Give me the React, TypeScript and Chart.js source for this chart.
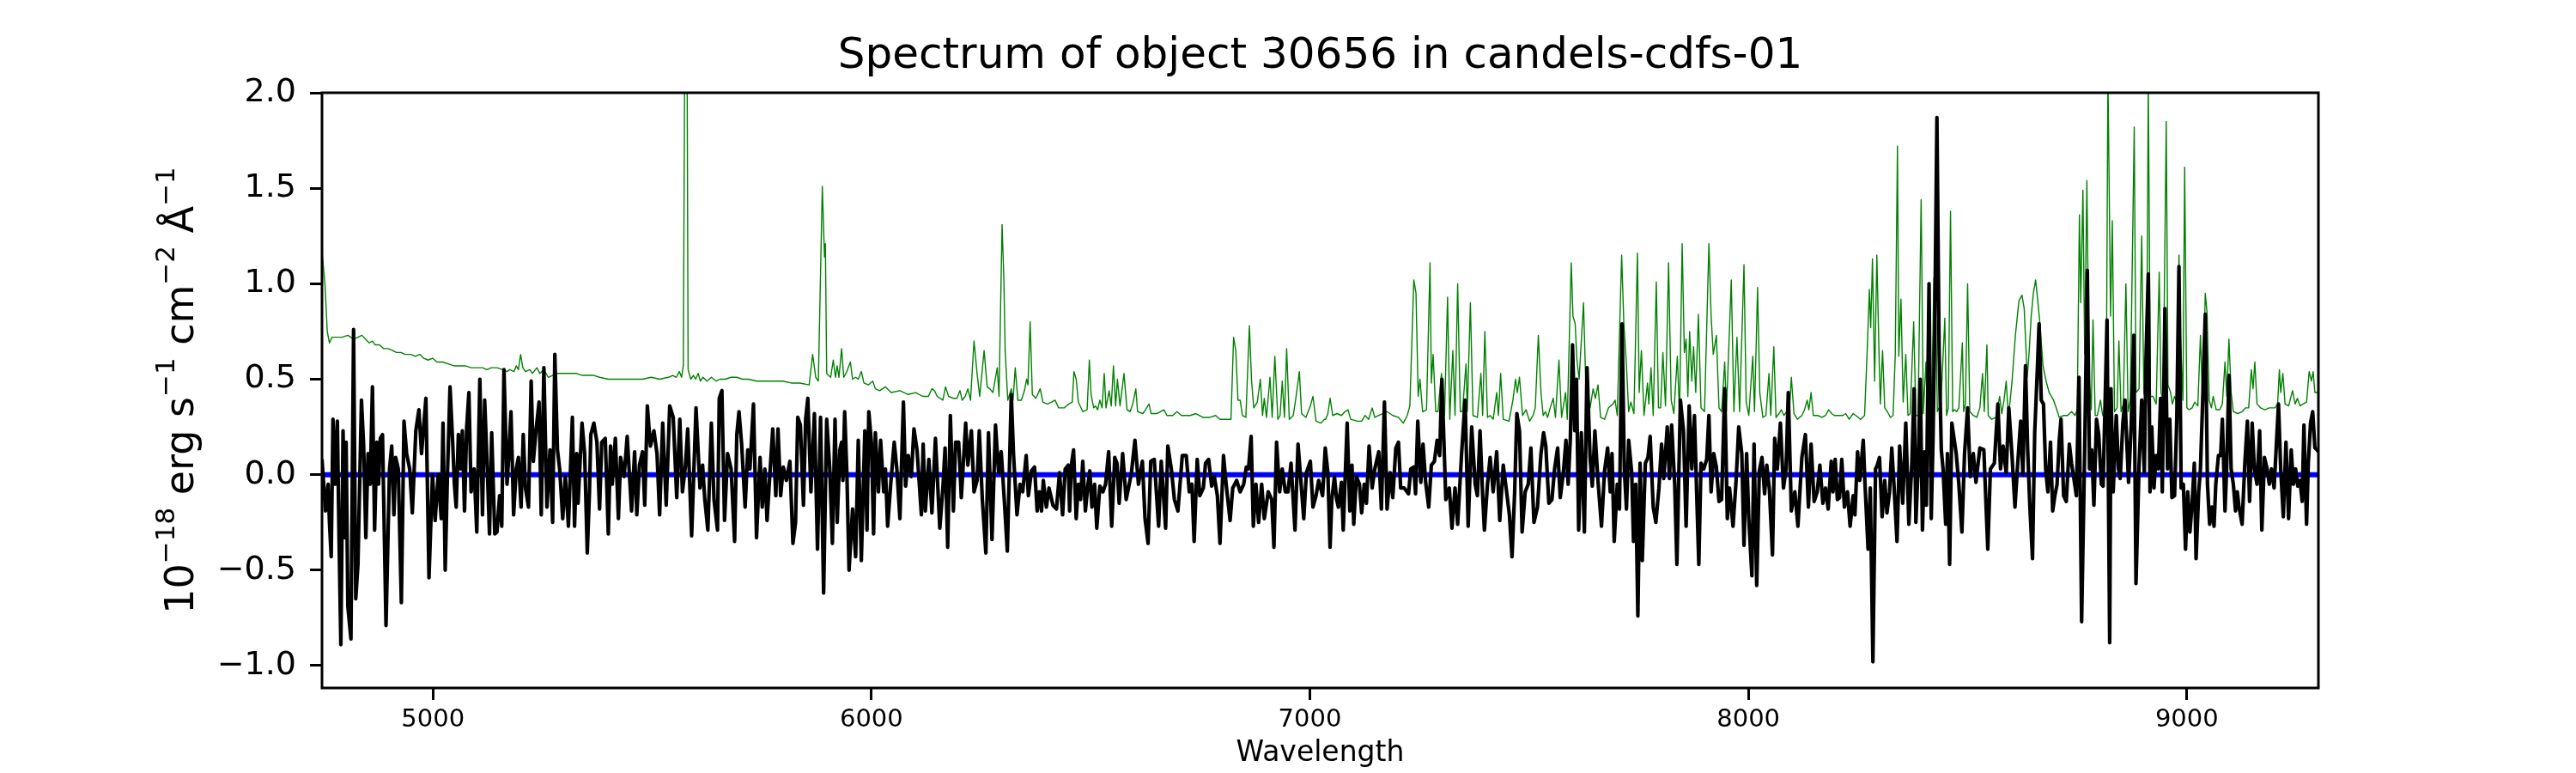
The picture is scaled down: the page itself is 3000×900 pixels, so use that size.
import React, { useEffect, useRef } from "react";
import { Chart, registerables } from "chart.js";

Chart.register(...registerables);

const TITLE = "Spectrum of object 30656 in candels-cdfs-01";
const X_LABEL = "Wavelength";
// y label as (text, isSuperscript) pieces: 10^-18 erg s^-1 cm^-2 Å^-1
const yLabelParts: [string, boolean][] = [
  ["10", false],
  ["−18", true],
  [" erg s", false],
  ["−1", true],
  [" cm", false],
  ["−2", true],
  [" Å", false],
  ["−1", true],
];

const X_MIN = 4747;
const X_MAX = 9300;
const Y_MIN = -1.117;
const Y_MAX = 2.0;

const xTickValues = [5000, 6000, 7000, 8000, 9000];
const xTickLabels = ["5000", "6000", "7000", "8000", "9000"];
const yTickValues = [-1.0, -0.5, 0.0, 0.5, 1.0, 1.5, 2.0];
const yTickLabels = ["−1.0", "−0.5", "0.0", "0.5", "1.0", "1.5", "2.0"];

// Object flux (black)
const fluxWavelength = [
  4747,4755,4761,4764,4768,4772,4777,4782,4786,4790,
  4795,4799,4802,4806,4813,4819,4824,4829,4837,4842,
  4847,4852,4857,4862,4867,4872,4876,4880,4885,4893,
  4901,4906,4911,4915,4921,4928,4934,4940,4947,4953,
  4961,4968,4974,4984,4991,4999,5005,5012,5019,5023,
  5028,5033,5039,5045,5049,5053,5058,5063,5067,5072,
  5077,5082,5087,5094,5100,5107,5113,5118,5124,5129,
  5134,5141,5146,5152,5157,5162,5169,5173,5178,5184,
  5190,5195,5201,5206,5211,5218,5224,5229,5235,5242,
  5247,5253,5260,5267,5273,5278,5284,5289,5296,5302,
  5309,
  5318,5323,5328,5331,5340,5346,5352,5357,5360,5367,
  5374,5380,5385,5393,5400,5405,5409,5416,5423,5428,
  5436,5443,5453,5460,5465,5471,5478,5483,5489,5496,
  5504,5511,5517,5524,5532,5540,5548,5556,5563,5569,
  5576,5581,5590,5600,5609,5615,5620,5627,5635,5641,
  5649,5653,5659,5665,5672,5680,5688,5693,5698,5704,
  5712,5718,5723,5731,5738,5746,5751,5757,5762,5767,
  5775,5782,5787,5793,5799,5806,5814,5821,5827,5832,
  5838,5845,5850,5855,5862,5870,5877,5884,5891,
  5898,5905,5911,5917,5922,5928,5932,5935,5939,5944,
  5949,5957,5964,5970,5977,5985,5990,5994,6000,6005,
  6009,6016,6021,6028,6032,6037,6044,6052,6058,6065,
  6073,6078,6084,6091,6097,6104,6114,6118,6123,6131,
  6138,6146,6156,6163,6168,6174,6180,6187,6192,6199,
  6205,6215,6220,6228,6234,6241,6246,6253,6261,6267,
  6275,6283,6290,6296,6303,6310,6319,6324,6332,6339,
  6345,6353,6358,6365,6372,6378,6383,6388,6392,6399,
  6405,6414,6422,6429,6436,6442,6449,6452,6456,6461,
  6467,6472,6477,6482,6488,6494,6498,6503,6509,6514,
  6521,6528,6534,6541,6548,6555,6560,6565,6573,6581,
  6588,6593,6601,6609,6618,6624,6631,6637,6645,6655,
  6661,6671,6676,6684,6691,6699,6709,6718,6725,6731,
  6736,6743,6749,6757,6762,6769,6776,6782,6789,6795,
  6803,6809,6818,6824,6833,6841,6849,6855,6860,6866,
  6871,6877,6883,6890,6896,6905,6913,6918,6924,6931,
  6937,6944,6950,6957,6966,6973,6978,6986,6992,7001,
  7007,7014,7020,7029,7035,
  7041,7046,7050,7056,7061,7065,7072,7076,7085,7091,
  7096,7100,7106,7113,7118,7124,7129,7135,7142,7148,
  7157,7163,7170,7176,7183,7189,7196,7202,7207,7215,
  7225,7230,7237,7241,7246,7253,7258,7264,7271,7277,
  7284,7290,7296,7301,7310,7318,7324,7331,7337,7346,
  7354,7361,7369,7377,7382,7388,7394,7398,7405,7411,
  7418,7426,7433,7441,7447,7455,7461,7467,7472,7478,
  7484,7491,7498,7504,7511,7519,7527,7533,7538,7545,
  7552,7558,7565,7571,7578,7584,7589,7594,7599,7604,
  7608,
  7613,7619,7626,7632,7639,7644,7650,7657,7665,7672,
  7679,7685,7689,7694,7701,7706,7712,7717,7722,7727,
  7734,7738,7743,7748,7753,7758,7765,7771,7776,7783,
  7789,7796,7802,7807,7815,7820,7825,7832,7837,7845,
  7852,7858,7865,7871,7877,7882,7887,7892,7898,7905,
  7910,7915,7921,7927,7933,7939,7946,7952,7957,7965,
  7972,7978,7985,7990,7996,8001,8008,8013,8019,8025,
  8031,8037,8042,8048,8055,8060,8066,8073,8080,8086,
  8091,8098,8106,8113,8122,8130,8137,8143,8150,8157,
  8163,8170,8176,8182,
  8189,8193,8198,8203,8208,8213,8219,8226,8232,8239,
  8243,8249,8254,8262,8266,8273,8278,8284,8290,8294,
  8299,8305,8311,8316,8322,8327,8332,8339,8345,8352,
  8359,8366,8373,8378,8382,8387,8392,8397,8402,8406,
  8412,8417,8421,8425,8430,8435,8440,8444,8450,8454,
  8459,8464,8469,8474,8480,8487,8493,8500,8506,8513,
  8519,8528,8537,8546,8552,8561,8569,8575,8581,8588,
  8594,8601,8608,8614,8621,8626,8632,8637,8642,8648,
  8653,8659,8663,8668,8673,8678,8683,8689,8694,8699,
  8704,8709,8713,8719,8725,8732,8737,8743,8748,8754,
  8760,8767,8773,8778,8783,8788,8794,8799,8805,8809,
  8818,8824,8827,8832,8839,8844,8848,8854,8859,8867,
  8873,8879,8884,8891,8897,8903,8907,8912,8916,8920,
  8925,8930,8935,8940,8944,8950,8956,8961,8966,8972,
  8977,8982,8987,8992,8997,9002,9007,9012,9017,9021,
  9027,9031,9036,9042,9047,9052,9057,9062,9066,9072,
  9077,9081,9087,9091,9096,9101,9106,9111,9115,9119,
  9126,9132,9138,9143,9149,9154,9160,9166,9171,9177,
  9183,9188,9193,9199,9204,9209,9214,9220,9226,9232,
  9238,9243,9248,9253,9258,9263,9267,9273,9277,9282,
  9287,9292,9297,9300,
];
const fluxValue = [
  0.08,-0.19,-0.05,-0.25,-0.43,0.29,-0.05,0.28,-0.35,-0.89,
  0.23,-0.33,0.17,-0.69,-0.86,0.76,-0.65,-0.47,0.39,0.15,
  -0.33,0.11,-0.05,0.46,-0.29,0.17,-0.05,0.19,0.21,-0.79,
  0.03,0.15,-0.21,0.09,0.03,-0.67,0.28,0.11,0.03,-0.20,
  0.23,0.34,0.11,0.40,-0.54,0.00,-0.24,0.00,-0.23,0.27,
  -0.50,-0.01,0.46,0.17,-0.05,-0.17,0.21,0.03,0.23,-0.19,
  0.25,0.43,-0.09,0.03,-0.30,0.50,-0.21,0.39,0.03,-0.31,
  0.22,-0.31,-0.30,-0.11,-0.27,0.55,-0.05,0.10,0.33,-0.21,
  0.03,0.09,-0.17,0.21,-0.07,-0.17,0.49,0.07,0.23,0.38,
  -0.21,0.56,-0.17,0.13,-0.25,0.63,0.13,0.03,-0.23,-0.01,
  -0.27,
  0.30,-0.27,0.11,-0.15,0.27,0.11,-0.41,-0.09,0.21,0.27,
  0.17,-0.18,0.17,0.19,-0.31,0.15,-0.05,0.19,-0.23,0.09,
  -0.01,0.20,-0.19,0.12,-0.21,0.05,0.12,-0.16,0.36,0.15,
  0.23,0.11,-0.21,0.27,-0.16,0.36,0.30,-0.12,0.29,-0.09,
  0.05,0.24,-0.32,0.35,-0.07,0.05,-0.13,-0.29,0.27,-0.13,
  -0.29,0.40,0.44,-0.24,0.11,0.03,-0.35,0.21,0.33,0.16,
  -0.17,0.13,0.03,0.37,-0.33,0.09,-0.17,0.03,-0.24,-0.05,
  0.24,-0.11,0.24,-0.11,0.04,-0.03,0.07,-0.36,-0.25,0.30,
  0.26,-0.16,0.29,0.40,-0.09,0.32,-0.39,0.30,-0.62,
  0.29,0.03,-0.36,0.29,-0.25,0.13,0.17,-0.03,0.33,0.01,
  -0.50,-0.18,-0.43,0.18,-0.45,0.23,-0.29,0.33,0.17,-0.31,
  0.22,-0.09,0.18,-0.09,0.03,-0.27,-0.05,0.17,0.03,-0.23,
  0.38,-0.06,0.10,-0.01,0.24,0.13,-0.21,0.16,-0.19,0.08,
  -0.20,0.19,-0.28,-0.07,0.14,-0.38,0.31,-0.19,0.17,0.17,
  -0.12,0.27,0.05,0.23,-0.09,-0.03,0.23,-0.13,-0.41,0.22,
  -0.34,0.26,0.01,0.12,-0.13,-0.40,0.42,0.11,-0.21,-0.05,
  -0.09,0.10,-0.11,0.02,0.04,-0.19,-0.09,-0.19,-0.03,-0.17,
  -0.07,-0.16,-0.18,0.01,-0.21,0.03,0.05,-0.19,0.05,0.13,
  -0.23,-0.05,-0.13,0.07,-0.19,-0.05,0.02,-0.17,-0.05,-0.28,
  -0.06,-0.09,-0.05,0.12,-0.27,0.09,0.06,-0.15,0.11,-0.13,
  -0.05,0.01,0.18,-0.05,0.07,-0.23,-0.36,0.07,0.08,-0.27,
  0.07,-0.28,0.15,0.03,-0.13,-0.19,0.10,0.10,-0.09,-0.05,
  -0.35,0.08,-0.11,-0.07,0.06,0.08,-0.06,-0.01,-0.11,-0.36,
  0.10,-0.05,-0.24,-0.07,-0.03,-0.09,-0.05,0.04,0.03,0.20,
  -0.27,-0.05,-0.25,-0.05,-0.23,-0.09,-0.13,-0.38,0.17,-0.09,
  0.03,-0.09,-0.09,0.06,-0.29,0.16,0.01,-0.23,0.01,0.07,
  -0.17,-0.11,-0.03,-0.11,0.14,
  0.01,-0.38,-0.13,-0.01,-0.13,-0.17,-0.04,-0.29,0.27,-0.19,
  0.05,-0.26,-0.01,-0.05,-0.20,-0.05,-0.15,0.15,-0.07,0.03,
  0.12,-0.18,0.38,-0.18,0.01,-0.12,0.14,0.17,-0.07,-0.07,
  -0.10,0.03,0.04,-0.10,0.28,-0.04,0.16,-0.04,-0.17,0.05,
  0.07,0.18,0.10,0.50,-0.13,-0.07,-0.28,-0.07,-0.26,0.11,
  0.39,-0.27,0.25,-0.05,-0.11,0.23,-0.11,-0.29,-0.05,0.09,
  -0.09,0.12,-0.24,0.05,-0.06,-0.21,-0.43,-0.09,0.32,0.23,
  -0.30,-0.09,-0.05,0.14,-0.25,-0.17,0.11,0.22,0.15,-0.15,
  -0.13,0.03,0.14,-0.12,0.01,0.18,-0.05,0.19,0.68,0.23,
  0.50,
  -0.29,0.22,-0.30,0.56,0.09,-0.06,0.23,-0.03,-0.27,0.02,
  0.14,-0.09,0.11,-0.35,-0.05,-0.18,0.79,0.03,-0.18,0.18,
  0.01,-0.35,-0.05,-0.74,0.06,-0.45,0.06,0.09,0.20,-0.17,
  -0.25,-0.07,0.16,-0.02,0.25,-0.02,0.26,-0.05,-0.47,0.39,
  0.23,-0.27,0.36,0.03,0.31,-0.09,-0.47,0.06,0.03,0.08,
  0.31,-0.09,0.11,0.04,-0.14,-0.13,0.45,-0.23,-0.07,-0.27,
  -0.03,0.25,0.11,-0.37,0.11,-0.23,-0.53,0.16,-0.58,0.02,
  0.09,-0.10,0.05,-0.08,-0.42,0.19,0.03,0.27,-0.07,0.03,
  0.43,-0.19,-0.09,-0.27,0.09,0.21,-0.17,0.16,-0.14,-0.09,
  0.05,-0.15,-0.07,-0.18,
  0.07,-0.09,0.08,-0.13,-0.12,0.08,-0.17,-0.09,-0.27,-0.11,
  -0.21,0.12,-0.03,0.18,-0.05,-0.39,-0.07,-0.98,0.03,0.05,
  0.09,-0.22,-0.03,-0.20,-0.09,0.14,-0.05,-0.35,0.15,-0.15,
  0.27,-0.26,0.07,0.45,-0.25,0.03,0.50,-0.29,0.12,-0.16,
  1.00,-0.23,0.17,0.77,1.87,0.65,0.13,0.03,-0.26,0.11,
  -0.47,0.27,0.19,0.11,-0.05,-0.30,0.11,0.35,-0.01,0.11,
  -0.04,0.14,0.13,-0.39,0.03,0.06,0.37,0.03,0.15,0.01,
  0.35,0.11,-0.17,0.05,0.28,0.00,0.57,0.13,-0.17,-0.44,
  0.22,0.55,0.79,0.39,0.37,0.03,-0.09,0.17,-0.19,-0.11,
  -0.05,0.18,0.29,-0.11,-0.14,0.16,0.06,-0.03,-0.11,0.51,
  -0.77,0.13,1.07,0.03,0.13,-0.16,0.29,0.21,-0.05,-0.06,
  0.81,-0.88,0.45,-0.09,0.31,0.03,-0.02,0.27,0.39,-0.04,
  0.25,0.73,-0.57,0.05,0.39,0.01,0.63,1.05,-0.09,0.25,
  -0.07,0.10,0.03,0.40,-0.09,0.87,0.03,0.29,-0.12,-0.11,
  0.29,1.09,-0.07,-0.05,-0.39,-0.09,-0.30,-0.15,0.06,-0.44,
  -0.09,0.03,0.38,0.84,-0.05,-0.26,-0.17,-0.27,-0.05,0.10,
  0.10,0.29,-0.19,0.05,0.52,0.03,-0.05,-0.19,-0.09,-0.17,
  -0.26,0.05,0.28,-0.14,0.27,0.03,-0.05,0.23,-0.29,0.09,
  0.03,-0.05,0.03,-0.07,0.15,0.37,0.03,-0.22,0.17,-0.23,
  0.13,-0.05,0.03,-0.06,-0.03,-0.14,0.26,-0.26,0.06,0.27,
  0.33,0.14,0.13,0.12,
];

// Noise / sky spectrum (green)
const noiseWavelength = [
  4747,4754,4759,4764,4770,4780,4793,4806,4819,4829,
  4838,4846,4855,4862,4868,4878,4888,4898,4908,4917,
  4927,4937,4950,4960,4970,4979,4989,4999,5009,5022,
  5035,5048,5061,5074,5087,5100,5113,5123,5133,5146,
  5159,5169,5175,5185,5190,5195,5200,5205,5211,5221,
  5227,5237,5244,5253,5263,5273,5283,5296,5309,
  5315,5328,5341,5354,5367,5380,5400,5419,5439,5458,
  5478,5498,5517,5537,5547,5555,5562,5567,5571,5575,
  5579,5582,5588,5594,5599,5605,5610,5616,5625,5635,
  5646,5654,5667,5680,5693,5706,5719,5739,5759,5778,
  5798,5817,5837,5858,5866,5873,5879,5888,
  5893,5895,5898,5902,5907,5913,5918,5922,5926,5932,
  5937,5944,5952,5957,5964,5970,5977,5983,5993,6003,
  6009,6019,6032,6045,6065,6084,6101,6117,6130,6138,
  6144,6150,6163,6169,6176,6186,6195,6202,6207,6214,
  6220,6226,6234,6241,6247,6257,6264,6270,6277,6287,
  6291,6298,6302,6305,6311,6319,6323,6328,6334,6342,
  6349,6354,6357,6362,6367,6375,6385,6391,6401,6411,
  6419,6427,6440,6450,6458,6462,
  6467,6472,6482,6492,6497,6501,6507,6511,6516,6521,
  6526,6531,6535,6542,6547,6552,6557,6561,6567,6576,
  6583,6590,6596,6603,6607,6619,6625,6633,6638,6651,
  6667,6674,6687,6697,6707,6717,6727,6740,6756,6772,
  6785,6795,6820,6826,6831,6836,6841,6846,6854,6862,
  6867,6872,6880,6887,6892,6896,6901,6909,6914,6920,
  6927,6932,6937,6942,6947,6953,6962,6968,6976,6981,
  6991,7001,7007,7014,7025,7033,
  7036,7041,7046,7052,7062,7072,7080,7087,7093,7108,
  7118,7126,7134,7142,7148,7157,7166,7176,7189,7202,
  7213,7222,7228,7237,7242,7247,7251,7257,7266,7274,
  7277,7281,7287,7292,7300,7307,7314,7319,7326,7331,
  7337,7343,7348,7356,7359,7366,7372,7382,7390,7394,
  7399,7405,7411,7418,7426,7430,7435,7441,7454,7463,
  7469,7473,7478,7485,7493,7501,7509,7514,7521,7527,
  7532,7537,7542,7548,7555,7560,7568,7574,7583,7587,
  7596,7600,7605,7609,
  7614,7624,7629,7639,7646,7651,7657,7663,7672,7681,
  7691,7696,7701,7711,7716,7722,7727,7732,7739,7747,
  7751,7756,7762,7770,7773,7778,7783,7790,7795,7800,
  7805,7811,7818,7824,7830,7838,7843,7849,7854,7858,
  7862,7866,7871,7875,7880,7886,7892,7900,7910,7915,
  7920,7927,7933,7939,7946,7950,7961,7967,7974,7980,
  7990,7995,8001,8010,8014,8021,8026,8033,8040,8047,
  8051,8058,8063,8070,8075,8081,8087,8093,8098,8104,
  8112,8122,8128,8134,8138,8143,8148,8158,8168,8176,
  8183,
  8190,8196,8206,8215,8222,8230,8239,8245,8256,8265,
  8271,8276,8279,8283,8288,8293,8298,8301,8306,8311,
  8317,8324,8330,8335,8340,8343,8348,8353,8359,8364,
  8369,8377,8382,8387,8394,8399,8405,8408,8413,8418,
  8423,8428,8431,8439,8448,8452,8456,8461,8466,8470,
  8475,8480,8488,8491,8495,8500,8505,8513,8521,8528,
  8534,8538,8544,8547,8555,8565,8573,8578,8583,8588,
  8593,8601,8609,8617,8624,8629,8636,8640,8645,8650,
  8655,8660,8665,8672,8679,8686,8696,8702,8709,8719,
  8728,8737,8745,8750,
  8755,8758,8763,8767,8772,8777,8782,8786,8791,8796,
  8803,8808,8816,8820,8826,8830,8835,8841,8845,8850,
  8855,8861,8866,8871,8880,8884,8891,8897,8902,8908,
  8912,8917,8923,8930,8937,8941,8946,8953,8957,8963,
  8967,8972,8978,8982,8985,8991,8995,9000,9005,9012,
  9018,9025,9031,9036,9042,9046,9051,9056,9060,9067,
  9075,9081,9087,9091,9096,9101,9106,9116,9126,9134,
  9141,9147,9151,9155,9160,9168,9178,9188,9201,9207,
  9211,9214,9219,9224,9232,9241,9247,9252,9258,9265,
  9273,9279,9284,9288,9292,9297,9300,
];
const noiseValue = [
  1.17,0.99,0.75,0.69,0.72,0.72,0.72,0.73,0.71,0.72,
  0.73,0.71,0.69,0.70,0.68,0.68,0.66,0.66,0.65,0.64,
  0.64,0.63,0.63,0.62,0.63,0.61,0.60,0.61,0.59,0.59,
  0.58,0.57,0.57,0.57,0.56,0.56,0.56,0.55,0.56,0.56,
  0.55,0.54,0.55,0.54,0.57,0.55,0.63,0.56,0.54,0.55,
  0.53,0.56,0.53,0.55,0.51,0.52,0.53,0.53,0.53,
  0.53,0.53,0.52,0.52,0.52,0.51,0.50,0.50,0.50,0.50,
  0.50,0.51,0.50,0.51,0.52,0.51,0.54,0.51,0.57,2.60,
  2.60,0.55,0.50,0.52,0.50,0.53,0.49,0.51,0.49,0.51,
  0.49,0.50,0.50,0.51,0.51,0.50,0.50,0.49,0.49,0.49,
  0.49,0.48,0.48,0.47,0.63,0.51,0.49,1.51,
  1.14,1.21,0.53,0.52,0.51,0.60,0.51,0.57,0.51,0.66,
  0.51,0.54,0.59,0.50,0.51,0.50,0.54,0.48,0.47,0.49,
  0.45,0.44,0.46,0.43,0.44,0.42,0.43,0.41,0.41,0.45,
  0.44,0.41,0.39,0.46,0.41,0.40,0.40,0.44,0.39,0.41,
  0.45,0.39,0.70,0.53,0.41,0.65,0.46,0.45,0.43,0.56,
  0.41,1.31,1.03,0.65,0.39,0.45,0.39,0.56,0.39,0.39,
  0.44,0.50,0.47,0.80,0.42,0.40,0.45,0.38,0.37,0.38,
  0.39,0.35,0.35,0.37,0.38,0.54,
  0.50,0.38,0.33,0.34,0.60,0.42,0.35,0.36,0.34,0.39,
  0.35,0.53,0.35,0.44,0.36,0.57,0.36,0.50,0.36,0.53,
  0.34,0.33,0.37,0.45,0.33,0.32,0.34,0.37,0.32,0.32,
  0.34,0.31,0.31,0.33,0.31,0.31,0.31,0.32,0.30,0.30,
  0.31,0.29,0.29,0.72,0.65,0.39,0.39,0.31,0.30,0.78,
  0.49,0.35,0.38,0.50,0.31,0.40,0.30,0.51,0.30,0.62,
  0.29,0.31,0.49,0.30,0.66,0.29,0.31,0.40,0.54,0.32,
  0.30,0.36,0.41,0.28,0.27,0.29,
  0.29,0.32,0.40,0.31,0.32,0.31,0.33,0.34,0.29,0.28,
  0.28,0.31,0.29,0.35,0.30,0.31,0.32,0.33,0.31,0.30,
  0.27,0.31,0.36,1.02,0.95,0.41,0.50,0.33,0.34,1.11,
  0.48,0.63,0.33,0.33,0.53,0.31,0.93,0.29,0.65,0.31,
  1.00,0.33,0.33,0.58,0.33,0.90,0.31,0.30,0.53,0.31,
  0.75,0.30,0.31,0.29,0.43,0.31,0.53,0.29,0.28,0.39,
  0.50,0.43,0.51,0.31,0.34,0.28,0.31,0.35,0.73,0.43,
  0.31,0.33,0.30,0.35,0.40,0.30,0.60,0.30,0.43,0.29,
  1.11,0.83,0.79,0.60,
  0.50,0.90,0.49,0.35,0.45,0.40,0.47,0.30,0.29,0.35,
  0.37,0.39,0.31,1.15,0.79,0.57,0.33,0.38,0.32,1.16,
  0.43,0.65,0.31,0.48,0.37,0.56,0.31,1.01,0.35,0.35,
  0.64,0.36,1.11,0.39,0.32,0.62,0.31,1.21,0.64,0.71,
  0.41,0.75,0.49,0.67,0.43,0.84,0.35,0.33,1.21,0.83,
  0.63,0.73,0.35,0.33,0.59,0.33,1.02,0.33,0.72,0.33,
  1.10,0.38,0.31,0.62,0.33,0.98,0.43,0.30,0.31,0.53,
  0.31,0.67,0.30,0.32,0.34,0.31,0.33,0.31,0.51,0.32,
  0.29,0.31,0.34,0.39,0.34,0.43,0.31,0.31,0.30,0.31,
  0.34,
  0.32,0.31,0.31,0.31,0.32,0.29,0.32,0.31,0.29,0.31,
  0.65,0.97,0.77,1.13,0.49,1.15,0.63,0.37,0.65,0.35,
  0.33,0.30,0.31,0.63,1.72,0.62,0.92,0.38,0.63,0.31,
  0.32,0.80,0.31,0.31,1.44,0.32,0.59,0.33,0.70,0.34,
  1.03,0.78,0.33,0.37,0.82,0.31,0.35,1.38,0.33,0.34,
  0.33,0.35,0.69,0.33,0.37,1.00,0.33,0.31,0.30,0.35,
  0.53,0.33,0.68,0.31,0.29,0.30,0.41,0.32,0.39,0.49,
  0.30,0.48,0.73,0.91,0.94,0.87,0.51,0.63,0.83,0.95,
  1.02,0.91,0.79,0.57,0.49,0.43,0.39,0.35,0.30,0.31,
  0.31,0.33,0.31,0.34,
  1.36,0.90,1.49,0.63,1.54,0.51,0.34,0.81,0.31,0.31,
  0.39,0.31,0.32,2.10,0.83,1.33,0.33,0.35,0.70,0.33,
  0.37,1.00,0.33,0.39,1.82,0.43,0.45,1.25,0.43,0.37,
  2.05,0.41,0.41,0.37,1.06,0.43,0.39,1.85,0.47,0.43,
  0.37,0.41,0.37,1.15,0.75,0.39,1.61,0.35,0.34,0.35,
  0.38,0.36,0.73,0.37,0.95,0.85,0.39,0.35,0.41,0.34,
  0.34,0.37,0.59,0.41,0.71,0.43,0.33,0.32,0.33,0.35,
  0.35,0.55,0.45,0.59,0.37,0.35,0.34,0.35,0.35,0.37,
  0.55,0.43,0.53,0.37,0.36,0.44,0.37,0.40,0.36,0.37,
  0.38,0.54,0.49,0.54,0.43,0.43,0.44,
];

// Zero reference line (blue)
const zeroWavelength = [4747, 9300];
const zeroValue = [0, 0];

const FONT = "'DejaVu Sans', 'Liberation Sans', sans-serif";

function toPoints(xs: number[], ys: number[]) {
  const n = Math.min(xs.length, ys.length);
  const out: { x: number; y: number }[] = [];
  for (let i = 0; i < n; i++) out.push({ x: xs[i], y: ys[i] });
  return out;
}

const framePlugin = {
  id: "frame",
  afterDraw(chart: any) {
    const { ctx, chartArea } = chart;
    ctx.save();
    ctx.strokeStyle = "#000000";
    ctx.lineWidth = 3;
    ctx.strokeRect(
      chartArea.left,
      chartArea.top,
      chartArea.right - chartArea.left,
      chartArea.bottom - chartArea.top
    );
    ctx.restore();
  },
};

// Draws the rotated y-axis label with real superscripts (mathtext style)
const yLabelPlugin = {
  id: "yLabel",
  afterDraw(chart: any) {
    const { ctx, chartArea } = chart;
    const baseSize = 46;
    const supSize = 31;
    const supRaise = 22;
    const baseFont = `${baseSize}px ${FONT}`;
    const supFont = `${supSize}px ${FONT}`;
    ctx.save();
    let total = 0;
    const widths: number[] = [];
    for (const [txt, sup] of yLabelParts) {
      ctx.font = sup ? supFont : baseFont;
      const w = ctx.measureText(txt).width;
      widths.push(w);
      total += w;
    }
    const baselineX = 225;
    const centerY = (chartArea.top + chartArea.bottom) / 2;
    ctx.translate(baselineX, centerY);
    ctx.rotate(-Math.PI / 2);
    ctx.fillStyle = "#000000";
    ctx.textAlign = "left";
    ctx.textBaseline = "alphabetic";
    let x = -total / 2;
    yLabelParts.forEach(([txt, sup], i) => {
      ctx.font = sup ? supFont : baseFont;
      ctx.fillText(txt, x, sup ? -supRaise : 0);
      x += widths[i];
    });
    ctx.restore();
  },
};

export default function App() {
  const canvasRef = useRef<HTMLCanvasElement | null>(null);

  useEffect(() => {
    const canvas = canvasRef.current;
    if (!canvas) return;
    const chart = new Chart(canvas, {
      type: "line",
      data: {
        datasets: [
          {
            label: "flux",
            data: toPoints(fluxWavelength, fluxValue),
            borderColor: "#000000",
            borderWidth: 4.2,
            pointRadius: 0,
            tension: 0,
            fill: false,
            borderJoinStyle: "round",
            order: 0,
          },
          {
            label: "zero",
            data: toPoints(zeroWavelength, zeroValue),
            borderColor: "#0000ff",
            borderWidth: 6,
            pointRadius: 0,
            tension: 0,
            fill: false,
            order: 1,
          },
          {
            label: "noise",
            data: toPoints(noiseWavelength, noiseValue),
            borderColor: "#008000",
            borderWidth: 1.4,
            pointRadius: 0,
            tension: 0,
            fill: false,
            borderJoinStyle: "round",
            order: 2,
          },
        ],
      },
      options: {
        responsive: false,
        animation: false,
        devicePixelRatio: 1,
        events: [],
        layout: { padding: { left: 0, right: 300, top: 0, bottom: 0 } },
        plugins: {
          legend: { display: false },
          tooltip: { enabled: false },
          title: {
            display: true,
            text: TITLE,
            color: "#000000",
            fullSize: false,
            align: "center",
            font: { family: FONT, size: 50, weight: "normal", lineHeight: 1.2 },
            padding: { top: 35.7, bottom: 12.3 },
          },
        },
        scales: {
          x: {
            type: "linear",
            min: X_MIN,
            max: X_MAX,
            afterFit: (scale: any) => {
              scale.height = 99;
            },
            afterBuildTicks: (scale: any) => {
              scale.ticks = xTickValues.map((v) => ({ value: v }));
            },
            ticks: {
              autoSkip: false,
              maxRotation: 0,
              minRotation: 0,
              color: "#000000",
              padding: 6,
              font: { family: FONT, size: 29 },
              callback: (v: any) => {
                const i = xTickValues.indexOf(Number(v));
                return i >= 0 ? xTickLabels[i] : "";
              },
            },
            grid: {
              display: true,
              drawOnChartArea: false,
              drawTicks: true,
              tickLength: 14,
              tickWidth: 3,
              tickColor: "#000000",
            },
            border: { display: false },
            title: {
              display: true,
              text: X_LABEL,
              color: "#000000",
              font: { family: FONT, size: 33, lineHeight: 1.2 },
              padding: { top: 0, bottom: 3 },
            },
          },
          y: {
            type: "linear",
            min: Y_MIN,
            max: Y_MAX,
            afterFit: (scale: any) => {
              scale.width = 375;
            },
            afterBuildTicks: (scale: any) => {
              scale.ticks = yTickValues.map((v) => ({ value: v }));
            },
            ticks: {
              autoSkip: false,
              color: "#000000",
              padding: 16,
              font: { family: FONT, size: 38 },
              callback: (v: any) => {
                const i = yTickValues.findIndex((t) => Math.abs(t - Number(v)) < 1e-9);
                return i >= 0 ? yTickLabels[i] : "";
              },
            },
            grid: {
              display: true,
              drawOnChartArea: false,
              drawTicks: true,
              tickLength: 14,
              tickWidth: 3,
              tickColor: "#000000",
            },
            border: { display: false },
            title: { display: false },
          },
        },
      },
      plugins: [framePlugin, yLabelPlugin],
    } as any);
    return () => {
      chart.destroy();
    };
  }, []);

  return (
    <div
      style={{
        position: "absolute",
        left: 0,
        top: 0,
        width: 3000,
        height: 900,
        background: "#ffffff",
      }}
    >
      <canvas ref={canvasRef} width={3000} height={900} style={{ display: "block" }} />
    </div>
  );
}
